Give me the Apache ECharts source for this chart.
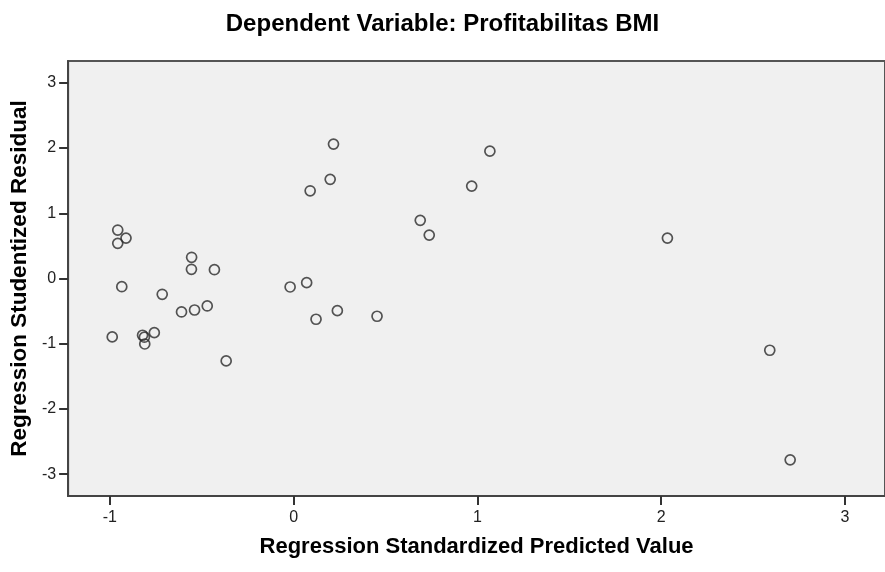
<!DOCTYPE html>
<html>
<head>
<meta charset="utf-8">
<script src="https://cdn.jsdelivr.net/npm/echarts@6/dist/echarts.min.js"></script>
<style>
  html, body { margin: 0; padding: 0; background: #fff; }
  #chart { width: 885px; height: 572px; }
</style>
</head>
<body>
<div id="chart"></div>
<script>
// standardized predicted value (x) and studentized residual (y)
var predicted = [-0.957, -0.912, -0.957, -0.935, -0.715, -0.555, -0.556, -0.431,
                 -0.610, -0.539, -0.470, -0.987, -0.822, -0.812, -0.810, -0.758,
                 -0.367, 0.217, 0.199, 0.090, 0.689, 0.738, 1.068, 0.969,
                 -0.019, 0.071, 0.122, 0.238, 0.454, 2.591, 2.702, 2.034];
var residual = [0.743, 0.620, 0.539, -0.126, -0.242, 0.325, 0.141, 0.135,
                -0.513, -0.483, -0.421, -0.896, -0.870, -0.900, -1.004, -0.830,
                -1.264, 2.061, 1.520, 1.345, 0.892, 0.666, 1.953, 1.417,
                -0.130, -0.064, -0.625, -0.493, -0.579, -1.100, -2.781, 0.620];
var xTicks = [-1, 0, 1, 2, 3];
var yTicks = [-3, -2, -1, 0, 1, 2, 3];

var points = predicted.map(function (v, i) { return [v, residual[i]]; });

var chart = echarts.init(document.getElementById('chart'));
var font = "'Liberation Sans', Arial, sans-serif";
var option = {
    backgroundColor: '#ffffff',
    animation: false,
    title: {
        text: 'Dependent Variable: Profitabilitas BMI',
        left: 'center',
        top: 7,
        textStyle: { fontFamily: font, fontSize: 24, fontWeight: 'bold', color: '#000' }
    },
    grid: {
        left: 66, top: 61, right: -10, bottom: 76,
        show: true,
        backgroundColor: '#f0f0f0',
        borderColor: '#555555',
        borderWidth: 2
    },
    xAxis: {
        type: 'value',
        min: -1.227, max: 3.218,
        name: 'Regression Standardized Predicted Value',
        nameLocation: 'middle',
        nameGap: 40,
        nameTextStyle: { fontFamily: font, fontSize: 22, fontWeight: 'bold', color: '#000' },
        splitLine: { show: false },
        axisLine: { show: true, onZero: false, lineStyle: { color: '#444', width: 2 } },
        axisTick: { show: true, length: 9, lineStyle: { color: '#333', width: 2 }, customValues: xTicks },
        axisLabel: { margin: 14, fontFamily: font, fontSize: 16, color: '#222', customValues: xTicks }
    },
    yAxis: {
        type: 'value',
        min: -3.335, max: 3.335,
        name: 'Regression Studentized Residual',
        nameLocation: 'middle',
        nameGap: 32,
        nameTextStyle: { fontFamily: font, fontSize: 22.5, fontWeight: 'bold', color: '#000' },
        splitLine: { show: false },
        axisLine: { show: true, onZero: false, lineStyle: { color: '#444', width: 2 } },
        axisTick: { show: true, length: 9, lineStyle: { color: '#333', width: 2 }, customValues: yTicks },
        axisLabel: { margin: 12, fontFamily: font, fontSize: 16, color: '#222', customValues: yTicks }
    },
    series: [{
        type: 'scatter',
        data: points,
        symbol: 'circle',
        symbolSize: 10,
        itemStyle: { color: 'rgba(0,0,0,0)', borderColor: '#2a2a2a', borderWidth: 1.7 }
    }]
};
chart.setOption(option);
</script>
</body>
</html>
